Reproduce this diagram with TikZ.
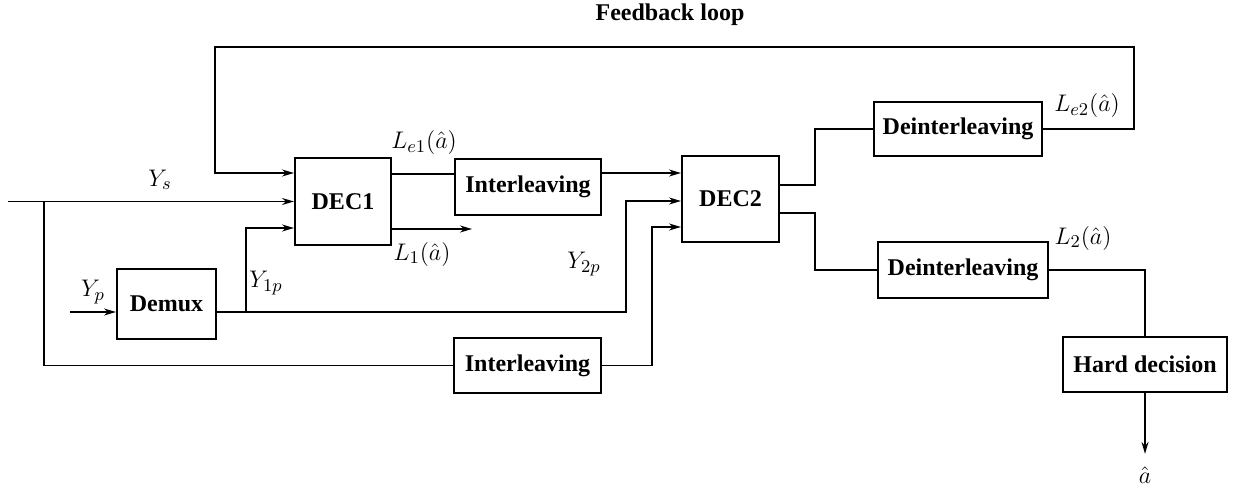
\documentclass[tikz,border=0pt]{standalone}
\usepackage{fontspec}
\setmainfont{Liberation Serif}
\usetikzlibrary{arrows.meta,calc}

\tikzset{
  blk/.style={draw, line width=1pt, inner sep=0pt, font=\fontsize{12}{14}\selectfont\bfseries},
  arr/.style={-{Stealth[length=6pt,width=3.5pt]}},
  lbl/.style={font=\fontsize{12.5}{14}\selectfont, inner sep=1pt}
}

\begin{document}
\begin{tikzpicture}[x=0.5pt,y=-0.5pt,line width=0.8pt]
        \useasboundingbox (0,0) rectangle (1234,497);
        % blocks
        \node[blk, minimum width=48pt, minimum height=43.5pt] (DEC1) at (343,201.5) {DEC1};
        \node[blk, minimum width=73pt, minimum height=28pt] (Intl1) at (528,187) {Interleaving};
        \node[blk, minimum width=48.5pt, minimum height=42.5pt] (DEC2) at (730.5,199) {DEC2};
        \node[blk, minimum width=84pt, minimum height=27pt] (Deint1) at (958,129) {Deinterleaving};
        \node[blk, minimum width=85pt, minimum height=28pt] (Deint2) at (963,270) {Deinterleaving};
        \node[blk, minimum width=82pt, minimum height=27.5pt] (Hard) at (1145,364.5) {Hard decision};
        \node[blk, minimum width=49.5pt, minimum height=35pt] (Demux) at (166.5,304) {Demux};
        \node[blk, minimum width=73.5pt, minimum height=27.5pt] (Intl2) at (527.5,365.5) {Interleaving};
        \node[font=\fontsize{12}{14}\selectfont\bfseries] (fbl) at (670,15) {Feedback loop};
        \node[lbl] (ahat) at (1145,475) {$\hat{a}$};
        % free ends
        \coordinate (ys) at (8,201.5);
        \coordinate (jn) at (44,201.5);
        \coordinate (yp) at (70,312);
        \coordinate (l1end) at (472,229);
        % labels
        \node[lbl] (lys) at (160,180) {$Y_s$};
        \node[lbl] (lyp) at (93,292) {$Y_p$};
        \node[lbl] (ly1) at (266,283) {$Y_{1p}$};
        \node[lbl] (ly2) at (584,264) {$Y_{2p}$};
        \node[lbl] (le1) at (424,143) {$L_{e1}(\hat{a})$};
        \node[lbl] (l1) at (422,254) {$L_1(\hat{a})$};
        \node[lbl] (le2) at (1087,106) {$L_{e2}(\hat{a})$};
        \node[lbl] (l2) at (1083,238) {$L_2(\hat{a})$};
        % connectors
        \draw[arr] (ys) -- (DEC1.west);
        \draw (jn) |- (Intl2.west);
        \draw[arr] (yp) -- ($(Demux.west)+(0,8)$);
        \draw[arr] ($(Demux.east)+(0,8)$) -- (626,312) |- ($(DEC2.west)+(0,2)$);
        \draw[arr] (246,312) |- ($(DEC1.west)+(0,26.5)$);
        \draw ($(DEC1.east)+(0,-27.5)$) -- ($(Intl1.west)+(0,-13)$);
        \draw[arr] ($(Intl1.east)+(0,-14)$) -- ($(DEC2.west)+(0,-26)$);
        \draw[arr] (DEC1.east |- l1end) -- (l1end);
        \draw[arr] (Intl2.east) -- (652,365.5) |- ($(DEC2.west)+(0,28)$);
        \draw ($(DEC2.east)+(0,-14)$) -- (815,185) |- (Deint1.west);
        \draw ($(DEC2.east)+(0,14)$) -- (815,213) |- (Deint2.west);
        \draw (Deint2.east) -| (Hard.north);
        \draw[arr, shorten >=5pt] (Hard.south) -- (ahat.north);
        % feedback loop
        \draw[arr] (Deint1.east) -- (1134,129) |- (215,47) |- ($(DEC1.west)+(0,-28.5)$);
      \end{tikzpicture}
\end{document}
